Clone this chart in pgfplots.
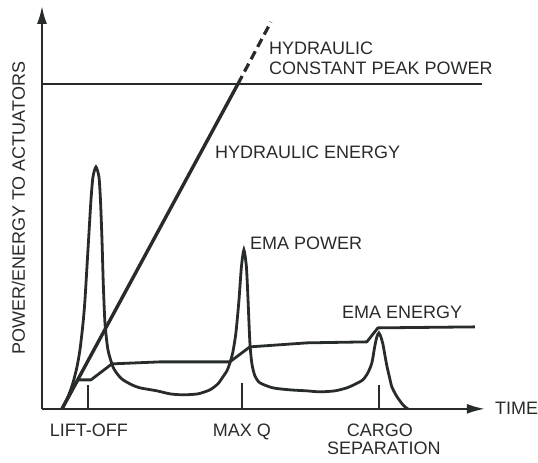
\documentclass[border=0pt]{standalone}
\usepackage{pgfplots}
\pgfplotsset{compat=1.18}
\usepackage{fontspec}
\setmainfont{Liberation Sans}
\usetikzlibrary{arrows.meta}
\definecolor{ink}{RGB}{40,44,40}
\tikzset{lbl/.style={font=\fontsize{18}{20}\selectfont, text=ink, inner sep=0pt}}
\begin{document}
\begin{tikzpicture}
\begin{axis}[
  scale only axis,
  width=443pt, height=403pt,
  xmin=42, xmax=485, ymin=0, ymax=403,
  axis lines=left,
  axis line style={ink, line width=2pt, -{Latex[length=18pt,width=10pt]}},
  xtick=\empty, ytick=\empty,
  clip=false,
]
% bounding box of the whole picture
\path (axis cs:0,-54) rectangle (axis cs:538,409);

% hydraulic constant peak power
\addplot[ink, line width=2.4pt] coordinates {(42,325) (482,325)};

% hydraulic energy
\addplot[ink, line width=3.4pt] coordinates {(62,0) (238,325)};
\addplot[ink, line width=3.2pt, dash pattern=on 9pt off 5pt] coordinates {(238,325) (271,387)};

% EMA energy
\addplot[ink, line width=2.8pt, line join=round] coordinates {
 (62,0) (78,29) (91,29) (112,45) (160,47) (230,47) (250,62) (307,66) (367,67) (378,81) (475,82)};

% EMA power
\addplot[ink, line width=2.8pt, smooth, tension=0.4] coordinates {
 (62,0) (68,12) (73,26) (77,42) (80,59) (83,85) (85,109) (88,159) (91,209) (93,232) (96,242)
 (99,232) (100.5,209) (102,170) (103.3,126) (105,86) (108,59) (113,42) (118,34) (123,29)
 (132,24) (140,21) (157,18) (170,15) (183,14) (198,15) (210,19) (218,25) (223,32) (227,38)
 (230,46) (233,57) (236,76) (239,108) (241.5,142) (244,159) (246.5,142) (248,112) (250,66)
 (252,45) (255,33) (260,26) (273,21) (290,19) (307,18) (320,17) (335,18) (347,21) (356,25)
 (363,29) (368,36) (372,46) (375,63) (377,72) (379,76) (381,72) (383,65) (385,54) (387,43)
 (390,30) (392,22) (396,14) (400,8) (404,3) (408,0)};

% event ticks
\addplot[ink, line width=1.5pt] coordinates {(88,0) (88,24)};
\addplot[ink, line width=1.5pt] coordinates {(242,0) (242,26)};
\addplot[ink, line width=1.5pt] coordinates {(379,0) (379,24)};

% labels
\node[lbl, anchor=base west] at (axis cs:269,354.5) {HYDRAULIC};
\node[lbl, anchor=base west] at (axis cs:269,334.5) {CONSTANT PEAK POWER};
\node[lbl, anchor=base west] at (axis cs:215,250.5) {HYDRAULIC ENERGY};
\node[lbl, anchor=base west] at (axis cs:250,159.5) {EMA POWER};
\node[lbl, anchor=base west] at (axis cs:342,90.5) {EMA ENERGY};
\node[lbl, anchor=base] at (axis cs:89,-27.5) {LIFT-OFF};
\node[lbl, anchor=base] at (axis cs:242,-27.5) {MAX Q};
\node[lbl, anchor=base] at (axis cs:380,-27.5) {CARGO};
\node[lbl, anchor=base] at (axis cs:384,-45.5) {SEPARATION};
\node[lbl, anchor=base west] at (axis cs:495,-5.5) {TIME};
\node[lbl, anchor=base, rotate=90] at (axis cs:25,200.5) {POWER/ENERGY TO ACTUATORS};
\end{axis}
\end{tikzpicture}
\end{document}
